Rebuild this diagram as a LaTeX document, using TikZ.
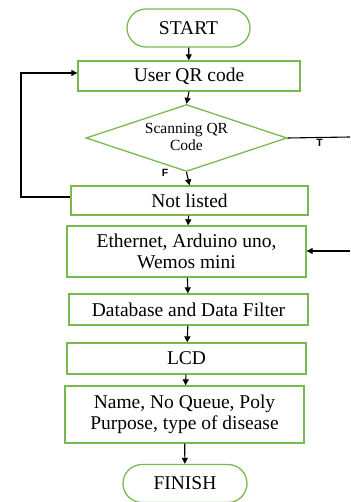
\documentclass[tikz,border=0pt]{standalone}
\usepackage{fontspec}
\setmainfont{Liberation Serif}
\newfontfamily\labfont{Liberation Sans}
\usetikzlibrary{shapes.geometric,arrows.meta}
\definecolor{boxgreen}{RGB}{120,185,80}
\begin{document}
\begin{tikzpicture}[x=1pt,y=-1pt,
  box/.style={draw=boxgreen,line width=1.3pt,minimum width=#1,inner sep=0pt,align=center,font=\fontsize{19.5}{21}\selectfont},
  box/.default=230,
  term/.style={draw=boxgreen,line width=1.3pt,rounded corners=19pt,minimum width=123,minimum height=38,inner sep=0pt,font=\fontsize{19.5}{21}\selectfont},
  conn/.style={-{Triangle[length=6pt,width=6pt]},line width=1.1pt},
  lab/.style={font=\labfont\bfseries\fontsize{10.5}{12}\selectfont,inner sep=0pt}]
\useasboundingbox (0,0) rectangle (350,502);
\node[term] (start) at (188.5,28) {START};
\node[box=222,minimum height=30] (user) at (189,76) {User QR code};
\node[draw=boxgreen,line width=1.3pt,diamond,aspect=3,minimum width=201,minimum height=67,inner sep=0pt] (scan) at (186.5,138) {};
\node[font=\fontsize{15.5}{17}\selectfont,align=center,inner sep=0pt] (scantext) at (186.5,137) {Scanning QR\\Code};
\node[box=237,minimum height=29] (notl) at (189.5,200.5) {Not listed};
\node[box=239,minimum height=51] (eth) at (186.5,251.5) {Ethernet, Arduino uno,\\Wemos mini};
\node[box=239,minimum height=31] (db) at (188.5,309.5) {Database and Data Filter};
\node[box=239,minimum height=31] (lcd) at (186.5,358.5) {LCD};
\node[box=239,minimum height=57] (name) at (184.5,414.5) {Name, No Queue, Poly\\Purpose, type of disease};
\node[term,minimum width=124] (finish) at (185,483.5) {FINISH};
\coordinate (tend) at (350,137);
\coordinate (ein) at (350,251);
\coordinate (lp1) at (21,197);
\coordinate (lp2) at (21,73);
\draw[conn] (start) -- (user);
\draw[conn] (user.south) -- (scan.north);
\draw[conn] (scan.south) -- (notl.north);
\draw[conn] (notl) -- (eth);
\draw[conn] (eth) -- (db);
\draw[conn] (db) -- (lcd);
\draw[conn] (lcd) -- (name);
\draw[conn] (name) -- (finish);
\draw[line width=1.1pt] (scan.east) -- (tend);
\draw[conn] (ein) -- (eth.east|-ein);
\draw[conn] (notl.west|-lp1) -- (lp1) -- (lp2) -- (user.west|-lp2);
\node[lab] (tl) at (319.5,143) {T};
\node[lab] (fl) at (165,173) {F};
\end{tikzpicture}
\end{document}
